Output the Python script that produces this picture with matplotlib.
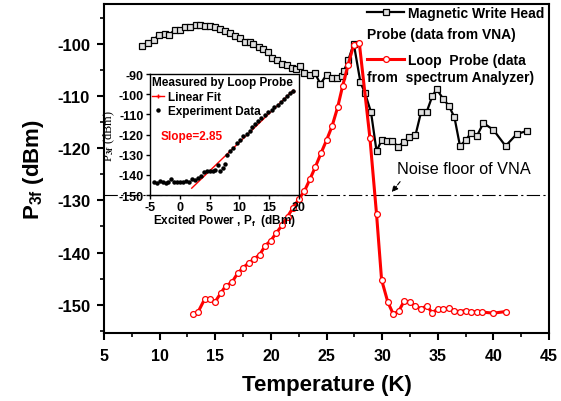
import matplotlib.pyplot as plt
from matplotlib import rcParams

config = {
    'axes.unicode_minus': False,
    "font.family": ['Liberation Sans', 'DejaVu Sans'],
    "font.weight": 'bold',
    "mathtext.fontset": 'custom',
    "mathtext.rm": 'Liberation Sans:bold',
    "mathtext.it": 'Liberation Sans:bold',
    "mathtext.bf": 'Liberation Sans:bold',
    "axes.linewidth": 1.5,
}
rcParams.update(config)

# black: magnetic write head probe (VNA)
vna_t = [8.45, 8.95, 9.45, 9.95, 10.45, 10.85, 11.35, 11.85, 12.3, 12.75, 13.25, 13.65,
         14.1, 14.55, 15.0, 15.4, 15.9, 16.3, 16.8, 17.2, 17.7, 18.1, 18.4, 18.9, 19.3,
         19.7, 20.1, 20.55, 21.0, 21.45, 21.9, 22.3, 22.65, 23.0, 23.5, 23.95, 24.45,
         25.0, 25.45, 25.95, 26.35, 26.55, 26.95, 27.45, 28.05, 28.45, 29.0, 29.5, 29.95,
         30.4, 30.9, 31.45, 31.95, 32.45, 33.0, 33.5, 34.0, 34.5, 34.9, 35.5, 36.0, 36.5,
         37.0, 37.5, 38.0, 38.5, 39.1, 40.0, 41.1, 42.1, 43.05]
vna_p = [-100.5, -99.8, -99.3, -98.3, -98.1, -98.3, -97.4, -97.3, -96.8, -96.9, -96.4, -96.5,
         -96.7, -96.7, -96.9, -97.1, -97.6, -98.0, -98.5, -99.0, -99.6, -99.7, -100.1, -100.6, -101.0,
         -101.6, -102.75, -103.1, -103.9, -104.0, -104.7, -104.8, -104.3, -105.6, -106.0, -105.6, -107.7,
         -106.0, -106.5, -106.5, -106.2, -105.3, -103.2, -100.0, -107.4, -109.4, -113.1, -120.6, -118.5,
         -118.7, -118.7, -119.7, -118.8, -117.9, -117.5, -113.1, -113.1, -110.1, -108.7, -110.6, -111.9, -114.1,
         -119.6, -118.5, -117.1, -117.75, -115.2, -116.5, -119.6, -117.3, -116.7]

# red: loop probe (spectrum analyzer)
loop_t = [13.0, 13.45, 14.05, 14.5, 15.0, 15.5, 15.95, 16.5, 17.0, 17.5, 18.0, 18.5, 19.0,
          19.5, 20.0, 20.5, 21.0, 21.5, 22.0, 22.5, 23.0, 23.5, 24.0, 24.5, 25.0, 25.5, 26.0,
          26.45, 26.95, 27.45, 27.95, 28.9, 29.5, 29.95, 30.5, 31.0, 31.5, 32.0, 32.5, 33.0,
          33.5, 34.0, 34.5, 35.0, 35.5, 36.0, 36.5, 37.0, 37.5, 38.0, 38.5, 39.0, 40.0, 41.1]
loop_p = [-151.8, -151.4, -148.9, -148.85, -149.4, -147.75, -146.35, -145.7, -144.0, -142.9, -142.0, -141.2, -140.4,
          -138.65, -137.7, -136.2, -134.8, -133.1, -131.4, -129.8, -128.3, -126.0, -123.6, -121.0, -118.5, -115.8, -112.2,
          -108.1, -104.0, -100.2, -99.9, -118.0, -132.7, -145.2, -149.4, -151.8, -151.2, -149.2, -149.55, -150.2,
          -150.8, -150.2, -151.5, -150.8, -150.8, -150.7, -151.2, -151.3, -151.1, -151.4, -151.3, -151.4, -151.6, -151.3]

noise_floor = -129

# inset: P3f vs excited power
inset_x = [-4.4, -3.9, -3.4, -2.9, -2.4, -1.9, -1.4, -0.9, -0.4, 0.1, 0.6, 1.1, 1.6, 2.1, 2.6, 3.1,
           3.6, 4.1, 4.5, 5.0, 5.5, 5.9, 6.4, 6.8, 7.2, 7.6, 8.0, 8.5, 9.0, 9.6, 10.1, 10.6, 11.2,
           11.7, 12.1, 12.6, 13.2, 13.7, 14.3, 14.8, 15.4, 15.8, 16.4, 16.9, 17.4, 18.0, 18.5, 19.0]
inset_y = [-143.3, -144.0, -142.9, -143.6, -144.2, -143.6, -141.9, -143.5, -143.6, -143.5, -143.4, -143.0,
           -143.3, -142.2, -142.5, -141.6, -140.5, -138.6, -138.2, -138.2, -138.0, -137.7, -135.3, -137.9,
           -136.5, -134.4, -130.2, -128.0, -126.5, -124.3, -122.9, -120.8, -119.5, -118.2, -116.5, -115.0,
           -113.3, -111.7, -110.3, -109.0, -107.6, -106.6, -105.3, -104.0, -102.6, -100.8, -99.6, -98.2]
fit_x = [2.0, 19.0]
fit_y = [-146.6, -98.2]

fig = plt.figure(figsize=(5.61, 4.02), dpi=100)
ax = fig.add_axes([0.1854, 0.1692, 0.7932, 0.8184])

ax.axhline(noise_floor, color='black', lw=0.8, ls=(0, (12, 3, 2, 3)))
ax.plot(vna_t, vna_p, '-s', color='black', lw=1.6, ms=4.0, mfc='#e0e0e0', mec='black', mew=0.9,
        label='Magnetic Write Head')
ax.plot(loop_t, loop_p, '-o', color='red', lw=2.2, ms=4.2, mfc='white', mec='red', mew=0.9,
        label='Loop  Probe (data')

ax.set_xlim(5, 45)
ax.set_ylim(-155.4, -92.4)
ax.set_xticks(range(5, 46, 5))
ax.set_xticks([x + 2.5 for x in range(5, 45, 5)], minor=True)
ax.set_yticks(range(-150, -99, 10))
ax.set_yticks(range(-155, -94, 10), minor=True)
ax.tick_params(which='major', direction='out', length=5, width=1.5, labelsize=11.5)
ax.tick_params(which='minor', direction='out', length=3, width=1.2)
ax.tick_params(axis='x', pad=6)
ax.tick_params(axis='y', pad=5, labelsize=12)
ax.set_xlabel('Temperature (K)', fontsize=16, fontweight='bold', labelpad=8)
ax.set_ylabel('P$_{3f}$ (dBm)', fontsize=16, fontweight='bold', labelpad=8)

leg = ax.legend(loc='upper left', bbox_to_anchor=(0.591, 0.995), frameon=False, fontsize=10,
                borderpad=0, borderaxespad=0, handlelength=2.7, handletextpad=0.25,
                labelspacing=2.4, markerscale=1.0)
ax.text(0.591, 0.909, 'Probe (data from VNA)', transform=ax.transAxes, fontsize=10,
        fontweight='bold', va='center', ha='left')
ax.text(0.591, 0.778, 'from  spectrum Analyzer)', transform=ax.transAxes, fontsize=10,
        fontweight='bold', va='center', ha='left')

ax.text(31.32, -123.85, 'Noise floor of VNA', fontsize=11.7, fontweight='normal',
        va='center', ha='left')
ax.annotate('', xy=(30.72, -128.85), xytext=(31.77, -126.0),
            arrowprops=dict(arrowstyle='-|>', color='black', lw=0.8, ls='--',
                            mutation_scale=9))

# inset
ins = fig.add_axes([0.2674, 0.5124, 0.2656, 0.301])
ins.plot(fit_x, fit_y, '-', color='red', lw=1.0, label='Linear Fit', marker='+', ms=3,
         markevery=[1])
ins.plot(inset_x, inset_y, 'o', color='black', ms=2.2, ls='none', label='Experiment Data')
ins.set_xlim(-5, 20)
ins.set_ylim(-150, -90)
ins.set_xticks(range(-5, 21, 5))
ins.set_yticks(range(-150, -89, 10))
ins.tick_params(direction='out', length=3, width=1.0, labelsize=9, pad=1.5)
for s in ins.spines.values():
    s.set_linewidth(1.0)
ins.set_xlabel('Excited Power , P$_f$  (dBm)', fontsize=8.5, fontweight='bold', labelpad=-1)
ins.set_ylabel(r'P$_{\mathrm{3f}}$ (dBm)', fontsize=9, family='Liberation Serif',
               fontweight='normal', labelpad=1, math_fontfamily='stix')
ins.text(-3.3, -120.5, 'Slope=2.85', color='red', fontsize=8.5, fontweight='bold',
         va='center', ha='left')
ileg = ins.legend(loc='upper left', title='Measured by Loop Probe', frameon=False,
                  fontsize=8.5, title_fontproperties={'weight': 'bold', 'size': 8.5},
                  borderpad=0.1, borderaxespad=0.1, handlelength=1.0, handletextpad=0.3,
                  labelspacing=0.2, alignment='left')

plt.savefig('out.png', dpi=100)
